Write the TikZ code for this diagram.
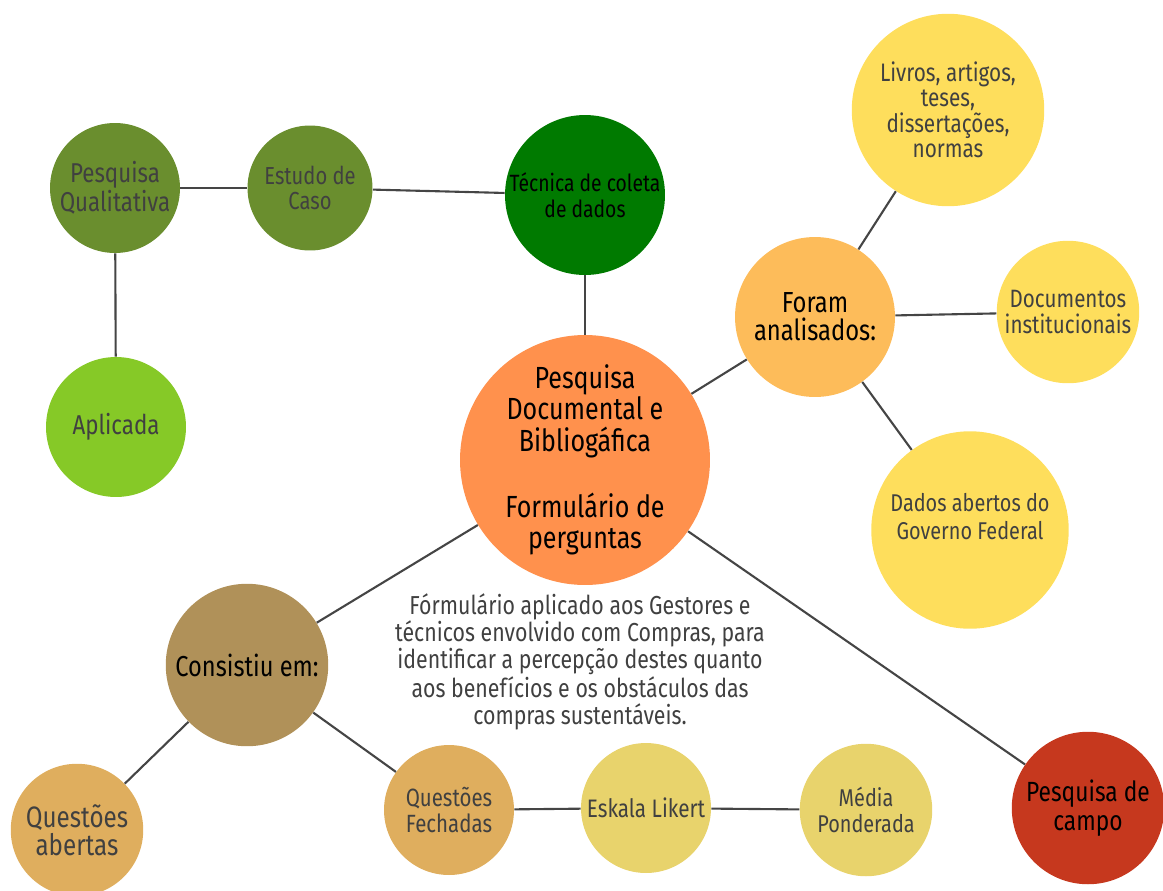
\documentclass[tikz,border=0pt]{standalone}
\usepackage{fontspec}
\setmainfont{Fira Sans}[FakeStretch=0.82]

\definecolor{oliva}{HTML}{6A8E2E}
\definecolor{verdeesc}{HTML}{007A00}
\definecolor{verdecl}{HTML}{86C927}
\definecolor{laranja}{HTML}{FF914D}
\definecolor{laranjacl}{HTML}{FDBC5A}
\definecolor{amarelo}{HTML}{FEDE5C}
\definecolor{caqui}{HTML}{B09159}
\definecolor{ocre}{HTML}{DFAE5E}
\definecolor{palha}{HTML}{E8D36C}
\definecolor{tijolo}{HTML}{C6381E}
\definecolor{cinza}{HTML}{404040}
\definecolor{linha}{HTML}{454545}

\newcommand{\tam}[2]{\fontsize{#1}{#2}\selectfont}

\begin{document}
\begin{tikzpicture}[x=0.02cm, y=-0.02cm,
        bolha/.style={circle, inner sep=0pt, align=center, text=cinza, font=\tam{14.2}{14.5}},
        liga/.style={draw=linha, line width=1.2pt}]
    \useasboundingbox (0,0) rectangle (1163,890);

    % ramo verde
    \node[bolha, fill=oliva, minimum size=2.6cm, font=\tam{15.5}{14.3}] (qual) at (115,188) {Pesquisa\\Qualitativa};
    \node[bolha, fill=oliva, minimum size=2.5cm, font=\tam{14}{14.3}] (caso) at (310,188) {Estudo de\\Caso};
    \node[bolha, fill=verdeesc, text=black, minimum size=3.2cm, font=\tam{13.4}{14.5}] (tecnica) at (585,195) {Técnica de coleta\\de dados};
    \node[bolha, fill=verdecl, minimum size=2.8cm, font=\tam{15.5}{16}] (aplic) at (116,427) {Aplicada};

    % centro
    \node[bolha, fill=laranja, text=black, minimum size=5cm, font=\tam{17.4}{17.8}] (centro) at (585,460)
        {Pesquisa\\Documental e\\Bibliogáfica\\[20pt]Formulário de\\perguntas};

    % documentos analisados
    \node[bolha, fill=laranjacl, text=black, minimum size=3.2cm, font=\tam{16.5}{16}] (foram) at (815,317) {Foram\\analisados:};
    \node[bolha, fill=amarelo, minimum size=3.85cm, font=\tam{14.4}{14.5}] (livros) at (948,110) {Livros, artigos,\\teses,\\dissertações,\\normas};
    \node[bolha, fill=amarelo, minimum size=2.85cm, font=\tam{14.3}{14.5}] (docs) at (1068,312) {Documentos\\institucionais};
    \node[bolha, fill=amarelo, minimum size=3.95cm, font=\tam{13.8}{15.5}] (dados) at (970,530) {Dados abertos do\\Governo Federal\\\mbox{}};

    % formulario
    \node[bolha, fill=caqui, text=black, minimum size=3.25cm, font=\tam{16.4}{16}] (consist) at (247,665) {Consistiu em:};
    \node[bolha, fill=ocre, minimum size=2.65cm, font=\tam{16.8}{16}] (qabert) at (77,830) {Questões\\abertas};
    \node[bolha, fill=ocre, minimum size=2.6cm] (qfech) at (449,810) {Questões\\Fechadas};
    \node[bolha, fill=palha, minimum size=2.6cm, font=\tam{14.4}{14.5}] (likert) at (646,808) {Eskala Likert};
    \node[bolha, fill=palha, minimum size=2.65cm, font=\tam{13.8}{14.5}] (media) at (866,810) {Média\\Ponderada};
    \node[bolha, fill=tijolo, text=black, minimum size=3.05cm, font=\tam{15.8}{16.5}] (campo) at (1088,808) {Pesquisa de\\campo};

    \node[align=center, text=cinza, font=\tam{14.8}{15.4}] (nota) at (580,662)
        {Fórmulário aplicado aos Gestores e\\técnicos envolvido com Compras, para\\identificar a percepção destes quanto\\aos benefícios e os obstáculos das\\compras sustentáveis.};

    \draw[liga] (qual) -- (caso);
    \draw[liga] (caso) -- (tecnica);
    \draw[liga] (qual) -- (aplic);
    \draw[liga] (tecnica) -- (centro);
    \draw[liga] (centro) -- (foram);
    \draw[liga] (foram) -- (livros);
    \draw[liga] (foram) -- (docs);
    \draw[liga] (foram) -- (dados);
    \draw[liga] (centro) -- (consist);
    \draw[liga] (centro) -- (campo);
    \draw[liga] (consist) -- (qabert);
    \draw[liga] (consist) -- (qfech);
    \draw[liga] (qfech) -- (likert);
    \draw[liga] (likert) -- (media);
\end{tikzpicture}
\end{document}
